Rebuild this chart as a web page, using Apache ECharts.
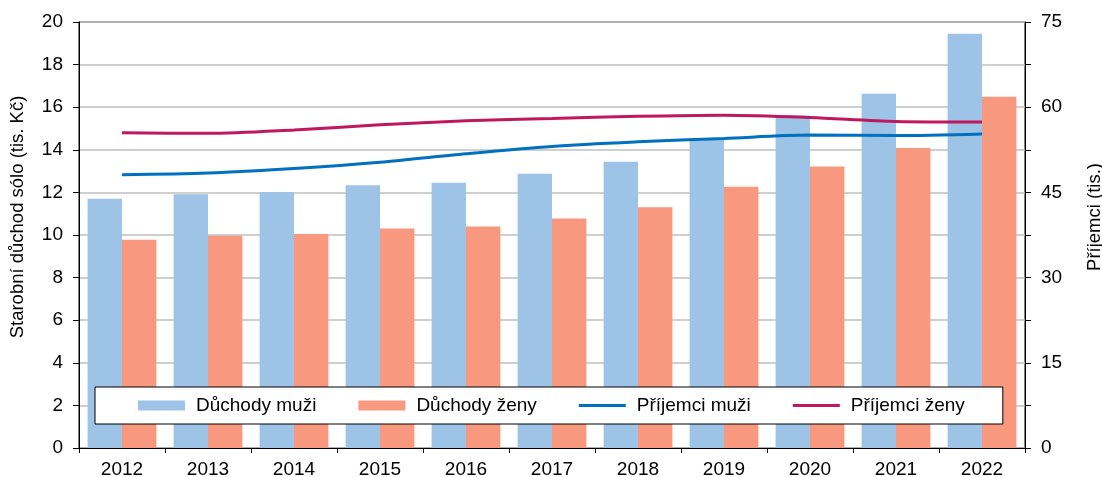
<!DOCTYPE html>
<html>
<head>
<meta charset="utf-8">
<script src="https://cdn.jsdelivr.net/npm/echarts@6/dist/echarts.min.js"></script>
<style>html,body{margin:0;padding:0;background:#fff}#c{width:1102px;height:477px}</style>
</head>
<body>
<div id="c"></div>
<script>
var years = ['2012','2013','2014','2015','2016','2017','2018','2019','2020','2021','2022'];
var duchodyMuzi = [11.70, 11.91, 12.02, 12.33, 12.45, 12.88, 13.44, 14.55, 15.61, 16.63, 19.45];
var duchodyZeny = [9.78, 9.97, 10.05, 10.31, 10.40, 10.77, 11.30, 12.27, 13.22, 14.08, 16.49];
var prijemciMuzi = [48.1, 48.4, 49.2, 50.3, 51.8, 53.1, 53.9, 54.5, 55.1, 55.0, 55.3];
var prijemciZeny = [55.5, 55.4, 56.0, 56.9, 57.6, 58.0, 58.4, 58.6, 58.2, 57.5, 57.4];
var leftTicks = {min: 0, max: 20, interval: 2};
var rightTicks = {min: 0, max: 75, interval: 7.5, labelStep: 15};

var font = 'Liberation Sans, Arial, sans-serif';
var lineIcon = 'path://M0,0 L47,0 L47,3 L0,3 Z';
var chart = echarts.init(document.getElementById('c'), null, {renderer: 'canvas'});
chart.setOption({
  animation: false,
  textStyle: {fontFamily: font},
  grid: {left: 79, right: 77, top: 22, bottom: 29, show: true, borderColor: '#000', borderWidth: 1,
    containLabel: false, outerBoundsMode: 'none'},
  legend: {
    left: 95, top: 387,
    backgroundColor: '#fff', borderColor: '#000', borderWidth: 1,
    padding: [9, 38, 9, 43],
    itemWidth: 47, itemHeight: 10, itemGap: 42,
    textStyle: {fontFamily: font, fontSize: 19, color: '#000', padding: [0, 0, 0, 6]},
    data: [
      {name: 'Důchody muži', icon: 'rect'},
      {name: 'Důchody ženy', icon: 'rect'},
      {name: 'Příjemci muži', icon: lineIcon},
      {name: 'Příjemci ženy', icon: lineIcon}
    ]
  },
  graphic: [
    {type: 'text', x: 18, y: 217, rotation: Math.PI / 2,
      style: {text: 'Starobní důchod sólo (tis. Kč)', font: '18.5px ' + font, fill: '#000', align: 'center', verticalAlign: 'middle'}},
    {type: 'text', x: 1095, y: 217, rotation: Math.PI / 2,
      style: {text: 'Příjemci (tis.)', font: '18.5px ' + font, fill: '#000', align: 'center', verticalAlign: 'middle'}}
  ],
  xAxis: {
    type: 'category', data: years, boundaryGap: true,
    axisLine: {lineStyle: {color: '#000', width: 1}},
    axisTick: {show: true, alignWithLabel: false, length: 5, lineStyle: {color: '#000'}},
    axisLabel: {color: '#000', fontSize: 19, margin: 12, fontFamily: font}
  },
  yAxis: [{
    type: 'value', min: leftTicks.min, max: leftTicks.max, interval: leftTicks.interval,
    axisLine: {show: true, lineStyle: {color: '#000'}},
    axisTick: {show: true, length: 6, lineStyle: {color: '#000'}},
    axisLabel: {color: '#000', fontSize: 19, margin: 16, fontFamily: font},
    splitLine: {show: true, lineStyle: {color: '#BFBFBF', width: 1.5}}
  }, {
    type: 'value', min: rightTicks.min, max: rightTicks.max, interval: rightTicks.interval,
    axisLine: {show: true, lineStyle: {color: '#000'}},
    axisTick: {show: true, length: 6, lineStyle: {color: '#000'}},
    axisLabel: {color: '#000', fontSize: 19, margin: 16, fontFamily: font,
      formatter: function (v) { return (Math.abs(v % rightTicks.labelStep) < 1e-9) ? String(v) : ''; }},
    splitLine: {show: false}
  }],
  series: [
    {name: 'Důchody muži', type: 'bar', data: duchodyMuzi, barGap: '0%', barCategoryGap: '20%',
      itemStyle: {color: '#9DC3E6'}},
    {name: 'Důchody ženy', type: 'bar', data: duchodyZeny, barGap: '0%', barCategoryGap: '20%',
      itemStyle: {color: '#F8987F'}},
    {name: 'Příjemci muži', type: 'line', yAxisIndex: 1, data: prijemciMuzi, smooth: 0.3,
      symbol: 'none', lineStyle: {color: '#0070C0', width: 3}, itemStyle: {color: '#0070C0'}},
    {name: 'Příjemci ženy', type: 'line', yAxisIndex: 1, data: prijemciZeny, smooth: 0.3,
      symbol: 'none', lineStyle: {color: '#C0185F', width: 3}, itemStyle: {color: '#C0185F'}}
  ]
});
</script>
</body>
</html>
